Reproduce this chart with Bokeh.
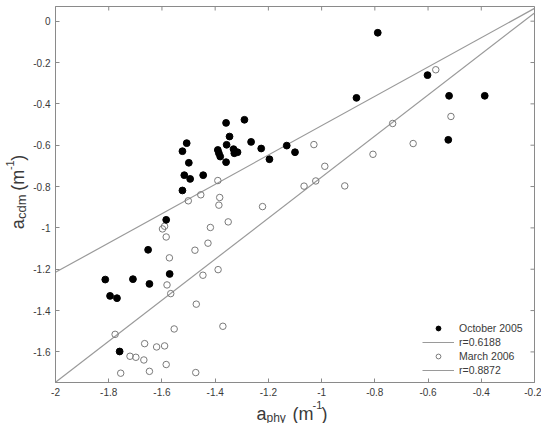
from bokeh.plotting import figure
from bokeh.layouts import row, column
from bokeh.models import (Range1d, LinearAxis, FixedTicker, Legend, LegendItem, Label)
from bokeh.embed import file_html
from bokeh.resources import INLINE
import math

# ---------------- data ----------------
oct_x = [-0.789, -0.602, -0.869, -0.521, -0.387, -0.524, -1.290, -1.359, -1.346,
         -1.265, -1.227, -1.131, -1.100, -1.196, -1.357, -1.390, -1.386, -1.381,
         -1.359, -1.331, -1.326, -1.316, -1.328, -1.507, -1.523, -1.499, -1.516,
         -1.494, -1.445, -1.523, -1.584, -1.652, -1.813, -1.709, -1.647, -1.571,
         -1.795, -1.769, -1.759]
oct_y = [-0.056, -0.261, -0.371, -0.361, -0.361, -0.574, -0.477, -0.492, -0.558,
         -0.584, -0.616, -0.602, -0.634, -0.668, -0.598, -0.623, -0.639, -0.655,
         -0.682, -0.619, -0.631, -0.634, -0.639, -0.590, -0.629, -0.685, -0.745,
         -0.763, -0.745, -0.819, -0.961, -1.106, -1.250, -1.248, -1.271, -1.223,
         -1.329, -1.340, -1.598]

mar_x = [-0.571, -0.514, -0.733, -0.656, -1.029, -0.807, -0.988, -1.022, -1.066,
         -0.913, -1.222, -1.390, -1.454, -1.501, -1.383, -1.386, -1.351, -1.418,
         -1.427, -1.476, -1.598, -1.590, -1.584, -1.572, -1.389, -1.446, -1.581,
         -1.567, -1.471, -1.371, -1.554, -1.776, -1.665, -1.620, -1.590, -1.720,
         -1.698, -1.668, -1.584, -1.755, -1.647, -1.473]
mar_y = [-0.235, -0.461, -0.495, -0.592, -0.597, -0.644, -0.702, -0.773, -0.798,
         -0.797, -0.897, -0.771, -0.840, -0.869, -0.853, -0.890, -0.971, -0.998,
         -1.074, -1.108, -1.005, -0.992, -1.044, -1.145, -1.202, -1.229, -1.276,
         -1.318, -1.369, -1.476, -1.489, -1.515, -1.560, -1.576, -1.571, -1.621,
         -1.626, -1.639, -1.661, -1.703, -1.694, -1.700]

fit_x = [-2.0, -0.2]
oct_fit_y = [-1.215, 0.062]
mar_fit_y = [-1.747, 0.040]

series_labels = ["October 2005", "r=0.6188", "March 2006", "r=0.8872"]

x_ticks = [-2.0, -1.8, -1.6, -1.4, -1.2, -1.0, -0.8, -0.6, -0.4, -0.2]
x_tick_labels = ["-2", "-1.8", "-1.6", "-1.4", "-1.2", "-1", "-0.8", "-0.6", "-0.4", "-0.2"]
y_ticks = [0.0, -0.2, -0.4, -0.6, -0.8, -1.0, -1.2, -1.4, -1.6]
y_tick_labels = ["0", "-0.2", "-0.4", "-0.6", "-0.8", "-1", "-1.2", "-1.4", "-1.6"]

X0, X1 = -2.0, -0.2
Y0, Y1 = -1.748, 0.071

# ---------------- styling ----------------
FONT = "Liberation Sans"
AX = "#8a8a8a"
TXT = "#3a3a3a"
LINE = "#9a9a9a"

W, H = 541, 423
YLAB_W = 30
MAIN_H = 400
XLAB_TOP = 393            # canvas y where the x-title strip starts (overlaps main by 7px)
XLAB_H = H - XLAB_TOP
MAIN_W = W - YLAB_W

p = figure(width=MAIN_W, height=MAIN_H, output_backend="svg", toolbar_location=None,
           x_range=Range1d(X0, X1), y_range=Range1d(Y0, Y1),
           x_axis_location=None, y_axis_location=None,
           min_border_left=25, min_border_right=7, min_border_top=6,
           min_border_bottom=18)
p.grid.visible = False
p.outline_line_color = AX
p.background_fill_color = "white"
p.border_fill_color = "white"

def make_axis(ticks, labels):
    ax = LinearAxis(ticker=FixedTicker(ticks=ticks))
    ax.major_tick_in = 4
    ax.major_tick_out = 0
    ax.minor_tick_line_color = None
    ax.axis_line_color = AX
    ax.major_tick_line_color = AX
    ax.major_label_overrides = {t: l for t, l in zip(ticks, labels)}
    ax.major_label_text_font = FONT
    ax.major_label_text_font_size = "10px"
    ax.major_label_text_color = TXT
    ax.major_label_standoff = 5
    return ax

p.add_layout(make_axis(x_ticks, x_tick_labels), "below")
p.add_layout(make_axis(y_ticks, y_tick_labels), "left")

# inward ticks on the top and right edges (half of each dash is clipped by the frame)
p.scatter(x_ticks, [Y1] * len(x_ticks), marker="dash", size=8, angle=math.pi / 2,
          line_color=AX, line_width=1)
p.scatter([X1] * len(y_ticks), y_ticks, marker="dash", size=8,
          line_color=AX, line_width=1)

l_oct = p.line(fit_x, oct_fit_y, line_color=LINE, line_width=1.2)
l_mar = p.line(fit_x, mar_fit_y, line_color=LINE, line_width=1.2)
r_mar = p.scatter(mar_x, mar_y, marker="circle", size=6.5, fill_color="white",
                  fill_alpha=0, line_color="#7a7a7a", line_width=1)
r_oct = p.scatter(oct_x, oct_y, marker="circle", size=6.8, fill_color="black",
                  line_color="black")

legend = Legend(items=[
    LegendItem(label=series_labels[0], renderers=[r_oct]),
    LegendItem(label=series_labels[1], renderers=[l_oct]),
    LegendItem(label=series_labels[2], renderers=[r_mar]),
    LegendItem(label=series_labels[3], renderers=[l_mar]),
], location=(364, 3))
legend.border_line_alpha = 0
legend.background_fill_alpha = 0
legend.padding = 3
legend.spacing = 2
legend.glyph_width = 32
legend.glyph_height = 12
legend.label_height = 12
legend.label_standoff = 5
legend.label_text_font = FONT
legend.label_text_font_size = "10.5px"
legend.label_text_color = TXT
legend.margin = 0
p.add_layout(legend)

# ---------------- axis titles (with sub/superscripts) ----------------
def text_fig(w, h):
    f = figure(width=w, height=h, output_backend="svg", toolbar_location=None,
               x_range=Range1d(0, w), y_range=Range1d(h, 0),
               x_axis_location=None, y_axis_location=None,
               min_border=0, min_border_left=0, min_border_right=0,
               min_border_top=0, min_border_bottom=0, outline_line_color=None)
    f.grid.visible = False
    f.background_fill_alpha = 0
    f.border_fill_alpha = 0
    return f

def lab(f, x, y, text, size, angle=0.0):
    f.add_layout(Label(x=x, y=y, text=text, text_font=FONT, text_font_size=size,
                       text_color=TXT, angle=angle, text_baseline="alphabetic",
                       text_align="left"))

# x title: a_phy (m^-1)   (local coords: canvas x, canvas y - XLAB_TOP)
fx = text_fig(W, XLAB_H)
fx.margin = (XLAB_TOP - MAIN_H, 0, 0, 0)
lab(fx, 256, 413.5 - XLAB_TOP, "a", "18px")
lab(fx, 266, 417 - XLAB_TOP, "phy", "12px")
lab(fx, 292, 413.5 - XLAB_TOP, "(m", "18px")
lab(fx, 312, 404.5 - XLAB_TOP, "-1", "11px")
lab(fx, 321, 413.5 - XLAB_TOP, ")", "18px")

# y title: a_cdm (m^-1)  rotated, in canvas coords
fy = text_fig(YLAB_W, MAIN_H)
R = math.pi / 2
lab(fy, 17, 237, "a", "18px", R)
lab(fy, 21, 226, "cdm", "13px", R)
lab(fy, 17, 196, "(m", "18px", R)
lab(fy, 9, 174, "-1", "11px", R)
lab(fy, 17, 164, ")", "18px", R)

layout = column(row(fy, p, spacing=0), fx, spacing=0)
open("out.html", "w").write(file_html(layout, INLINE))
